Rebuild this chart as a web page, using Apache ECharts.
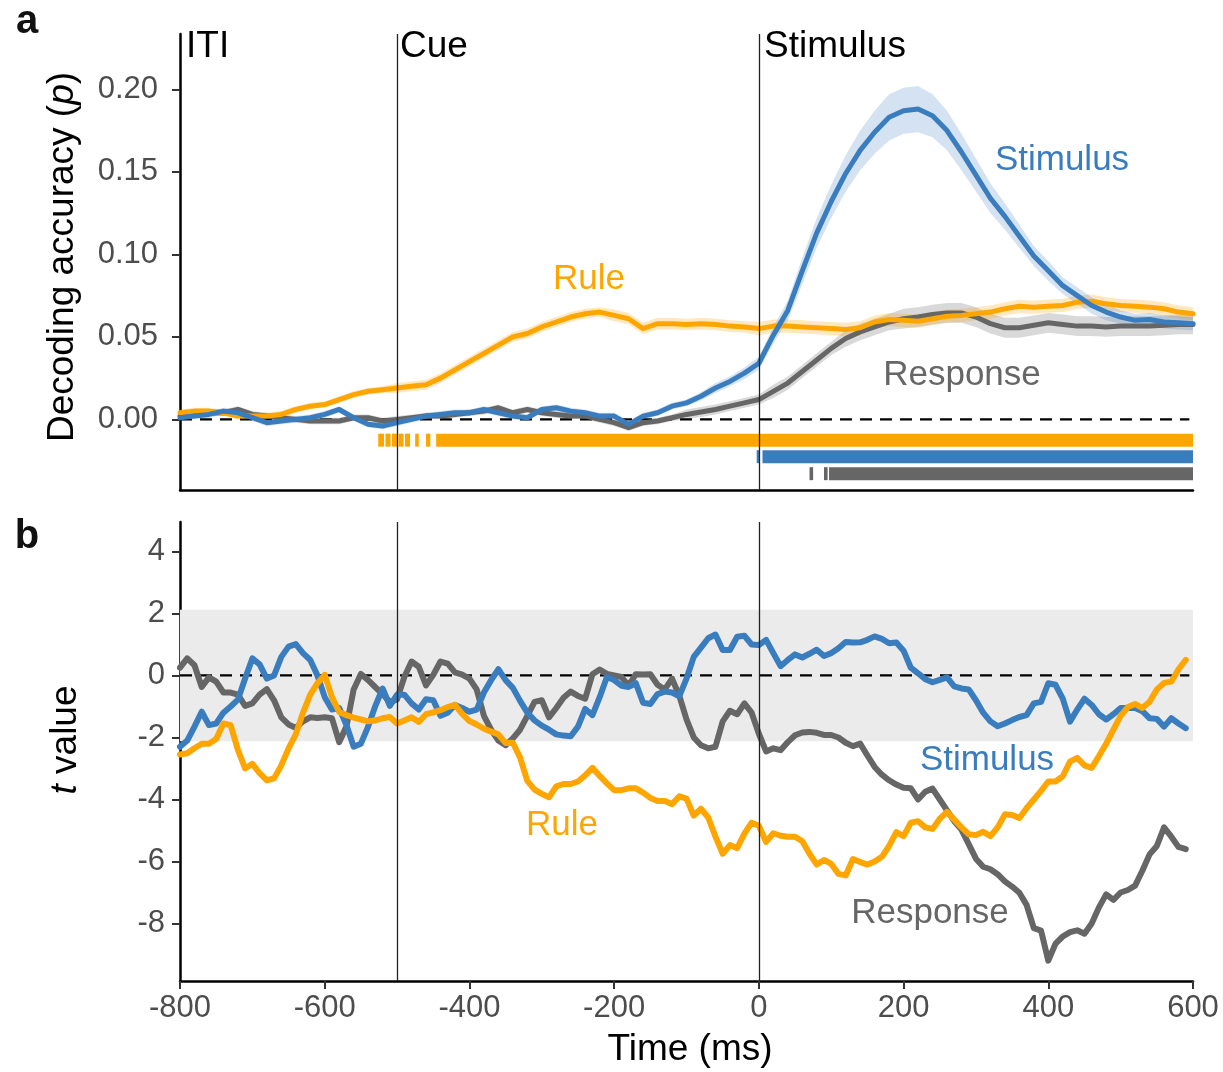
<!DOCTYPE html>
<html>
<head>
<meta charset="utf-8">
<title>Decoding accuracy / t value</title>
<script src="https://cdn.jsdelivr.net/npm/echarts@6/dist/echarts.min.js"></script>
<style>
  html, body { margin: 0; padding: 0; background: #fff; }
  #chart { width: 1223px; height: 1072px; }
</style>
</head>
<body>
<div id="chart"></div>
<script>
// ---- panel a: decoding accuracy, one value every 20 ms ----
const accTime = [-800,-780,-760,-740,-720,-700,-680,-660,-640,-620,
  -600,-580,-560,-540,-520,-500,-480,-460,-440,-420,
  -400,-380,-360,-340,-320,-300,-280,-260,-240,-220,
  -200,-180,-160,-140,-120,-100,-80,-60,-40,-20,
  0,20,40,60,80,100,120,140,160,180,
  200,220,240,260,280,300,320,340,360,380,
  400,420,440,460,480,500,520,540,560,580,600];

const ruleAcc = [0.004,0.005,0.005,0.004,0.002,0.002,0.002,0.003,0.006,0.008,
  0.009,0.012,0.015,0.017,0.018,0.019,0.020,0.021,0.025,0.030,
  0.035,0.040,0.045,0.050,0.052,0.056,0.059,0.062,0.064,0.065,
  0.063,0.061,0.055,0.058,0.058,0.0575,0.058,0.0575,0.0565,0.056,
  0.055,0.0565,0.0565,0.056,0.0555,0.055,0.0545,0.0555,0.059,0.0605,
  0.060,0.0595,0.061,0.0625,0.063,0.064,0.065,0.067,0.0685,0.068,
  0.0686,0.069,0.071,0.0716,0.070,0.069,0.0686,0.068,0.067,0.065,0.064];

const stimAcc = [0.001,0.002,0.003,0.005,0.004,0.001,-0.002,-0.001,0.0,0.001,
  0.003,0.006,0.001,-0.003,-0.004,-0.002,0.0,0.002,0.003,0.004,
  0.004,0.006,0.004,0.002,0.001,0.006,0.007,0.005,0.004,0.002,
  0.002,-0.003,0.002,0.004,0.008,0.010,0.014,0.019,0.023,0.028,
  0.034,0.051,0.066,0.090,0.113,0.132,0.149,0.163,0.174,0.183,
  0.187,0.188,0.184,0.175,0.162,0.148,0.134,0.123,0.111,0.099,
  0.090,0.081,0.075,0.069,0.065,0.062,0.060,0.0605,0.059,0.0585,0.058];

const respAcc = [0.002,0.003,0.004,0.004,0.006,0.003,0.002,0.001,0.0,-0.001,
  -0.001,-0.001,0.001,0.001,-0.001,0.0,0.001,0.002,0.002,0.003,
  0.004,0.005,0.007,0.004,0.006,0.004,0.003,0.002,0.002,0.0,
  -0.002,-0.005,-0.002,-0.001,0.001,0.003,0.0045,0.006,0.008,0.010,
  0.012,0.017,0.022,0.029,0.036,0.043,0.049,0.053,0.056,0.059,
  0.061,0.062,0.0635,0.0645,0.0645,0.062,0.058,0.0555,0.0555,0.057,
  0.0585,0.0575,0.0565,0.0565,0.056,0.0565,0.0565,0.0565,0.057,0.0575,0.0575];

// standard error half widths for the shaded ribbons
const ruleSem = [0.002,0.002,0.002,0.002,0.002,0.002,0.002,0.002,0.002,0.002,
  0.002,0.002,0.002,0.002,0.002,0.003,0.003,0.003,0.003,0.003,
  0.003,0.003,0.003,0.003,0.003,0.003,0.003,0.003,0.003,0.003,
  0.0035,0.0035,0.0035,0.0035,0.0035,0.0035,0.0035,0.0035,0.0035,0.0035,
  0.004,0.004,0.004,0.004,0.004,0.004,0.004,0.004,0.004,0.004,
  0.004,0.004,0.004,0.004,0.004,0.004,0.004,0.004,0.004,0.004,
  0.004,0.004,0.004,0.004,0.004,0.004,0.004,0.004,0.004,0.004,0.004];

const stimSem = [0.002,0.002,0.002,0.002,0.002,0.002,0.002,0.002,0.002,0.002,
  0.002,0.002,0.002,0.002,0.002,0.002,0.002,0.002,0.002,0.002,
  0.002,0.002,0.002,0.002,0.002,0.002,0.002,0.002,0.002,0.002,
  0.002,0.002,0.002,0.002,0.002,0.002,0.0025,0.003,0.003,0.0035,
  0.004,0.005,0.006,0.008,0.009,0.010,0.011,0.012,0.013,0.014,
  0.014,0.014,0.013,0.012,0.011,0.010,0.009,0.008,0.007,0.006,
  0.006,0.005,0.005,0.005,0.005,0.004,0.004,0.004,0.004,0.004,0.004];

const respSem = [0.002,0.002,0.002,0.002,0.002,0.002,0.002,0.002,0.002,0.002,
  0.002,0.002,0.002,0.002,0.002,0.002,0.002,0.002,0.002,0.002,
  0.002,0.002,0.002,0.002,0.002,0.002,0.002,0.002,0.002,0.002,
  0.002,0.002,0.002,0.002,0.002,0.003,0.003,0.003,0.003,0.003,
  0.003,0.004,0.004,0.004,0.004,0.004,0.005,0.005,0.005,0.005,
  0.006,0.006,0.006,0.006,0.006,0.006,0.006,0.006,0.006,0.006,
  0.006,0.006,0.006,0.006,0.006,0.006,0.006,0.006,0.006,0.006,0.006];

// significant time windows (ms), [start, end]
const ruleSig = [[-526,-518],[-516,-509],[-507,-500],[-498,-491],[-489,-482],[-475,-470],[-460,-454],[-446,600]];
const stimSig = [[-3,1],[5,600]];
const respSig = [[70,75],[90,95],[97,600]];

// ---- panel b: t values, one value every 10 ms ----
const tTime = [-800,-790,-780,-770,-760,-750,-740,-730,-720,-710,
  -700,-690,-680,-670,-660,-650,-640,-630,-620,-610,
  -600,-590,-580,-570,-560,-550,-540,-530,-520,-510,
  -500,-490,-480,-470,-460,-450,-440,-430,-420,-410,
  -400,-390,-380,-370,-360,-350,-340,-330,-320,-310,
  -300,-290,-280,-270,-260,-250,-240,-230,-220,-210,
  -200,-190,-180,-170,-160,-150,-140,-130,-120,-110,
  -100,-90,-80,-70,-60,-50,-40,-30,-20,-10,
  0,10,20,30,40,50,60,70,80,90,
  100,110,120,130,140,150,160,170,180,190,
  200,210,220,230,240,250,260,270,280,290,
  300,310,320,330,340,350,360,370,380,390,
  400,410,420,430,440,450,460,470,480,490,
  500,510,520,530,540,550,560,570,580,590];

const respT = [0.25,0.55,0.33,-0.37,-0.06,-0.2,-0.55,-0.55,-0.62,-0.98,
  -0.9,-0.62,-0.44,-0.8,-1.35,-1.58,-1.69,-1.48,-1.35,-1.37,
  -1.35,-1.38,-2.15,-1.65,-0.45,0.05,-0.15,-0.38,-0.6,-0.86,
  -0.77,-0.05,0.45,0.28,-0.32,0.02,0.45,0.38,0.1,0.03,
  -0.1,-0.45,-1.3,-1.75,-2.1,-2.25,-2.03,-1.75,-1.3,-0.85,
  -0.8,-1.35,-1.05,-0.72,-0.52,-0.66,-0.75,0.04,0.19,0.05,
  0.0,-0.05,-0.33,0.04,0.03,0.04,-0.3,-0.45,-0.1,-0.65,
  -1.42,-2.0,-2.25,-2.35,-2.3,-1.48,-1.14,-1.25,-0.9,-1.2,
  -1.88,-2.45,-2.35,-2.41,-2.15,-1.93,-1.84,-1.82,-1.85,-1.92,
  -1.92,-2.0,-2.17,-2.28,-2.2,-2.58,-2.95,-3.2,-3.38,-3.52,
  -3.62,-3.64,-4.0,-3.75,-3.65,-4.0,-4.35,-4.7,-4.97,-5.44,
  -5.91,-6.17,-6.25,-6.41,-6.64,-6.81,-7.01,-7.4,-8.15,-8.23,
  -9.2,-8.65,-8.42,-8.28,-8.22,-8.33,-8.0,-7.48,-7.06,-7.24,
  -7.0,-6.92,-6.78,-6.3,-5.77,-5.5,-4.9,-5.2,-5.53,-5.6];

const stimT = [-2.3,-2.1,-1.65,-1.17,-1.6,-1.55,-1.2,-1.0,-0.78,-0.1,
  0.55,0.36,-0.1,0.0,0.6,0.93,1.01,0.72,0.5,0.0,
  -0.7,-1.1,-1.05,-1.6,-2.3,-2.2,-1.65,-0.98,-0.42,-0.98,
  -0.62,-0.62,-0.9,-1.1,-0.77,-0.8,-1.3,-1.2,-0.95,-1.05,
  -1.17,-1.1,-0.55,-0.15,0.2,-0.15,-0.4,-0.82,-1.2,-1.45,
  -1.62,-1.75,-1.9,-1.94,-1.96,-1.65,-1.08,-1.28,-0.7,-0.05,
  -0.15,-0.33,-0.37,-0.25,-0.88,-0.92,-0.6,-0.52,-0.55,-0.67,
  -0.1,0.6,0.9,1.2,1.32,0.82,0.82,1.25,1.28,1.0,
  0.98,1.15,0.72,0.3,0.5,0.68,0.58,0.7,0.83,0.63,
  0.72,0.88,1.08,1.06,1.07,1.15,1.26,1.18,1.04,1.06,
  0.8,0.25,0.07,-0.12,-0.22,-0.14,-0.06,-0.35,-0.42,-0.45,
  -0.8,-1.2,-1.48,-1.64,-1.55,-1.44,-1.34,-1.28,-0.9,-0.85,
  -0.25,-0.3,-0.75,-1.49,-1.1,-0.75,-0.95,-1.25,-1.42,-1.25,
  -1.05,-1.05,-1.05,-1.15,-1.38,-1.4,-1.65,-1.38,-1.55,-1.7];

const ruleT = [-2.55,-2.51,-2.35,-2.2,-2.2,-2.05,-1.55,-1.6,-2.4,-3.0,
  -2.85,-3.15,-3.38,-3.32,-2.9,-2.35,-1.9,-1.2,-0.62,-0.25,
  0.02,-0.7,-1.18,-1.28,-1.36,-1.42,-1.48,-1.45,-1.38,-1.34,
  -1.55,-1.45,-1.35,-1.5,-1.25,-1.19,-1.12,-1.02,-0.95,-1.24,
  -1.47,-1.58,-1.72,-1.81,-1.9,-2.18,-2.17,-2.65,-3.4,-3.68,
  -3.82,-3.93,-3.58,-3.5,-3.5,-3.42,-3.22,-2.98,-3.24,-3.48,
  -3.7,-3.7,-3.64,-3.64,-3.78,-3.95,-4.05,-4.05,-4.15,-3.9,
  -3.97,-4.52,-4.3,-4.58,-5.2,-5.75,-5.47,-5.57,-5.1,-4.75,
  -4.85,-5.37,-5.09,-5.17,-5.2,-5.2,-5.35,-5.75,-6.1,-5.95,
  -6.08,-6.4,-6.45,-5.92,-6.02,-6.1,-6.0,-5.85,-5.5,-5.05,
  -5.18,-4.75,-4.7,-4.9,-4.95,-4.62,-4.4,-4.65,-4.9,-5.12,
  -5.15,-5.04,-5.18,-4.9,-4.48,-4.5,-4.6,-4.28,-4.0,-3.72,
  -3.42,-3.42,-3.25,-2.78,-2.66,-2.9,-2.98,-2.6,-2.2,-1.75,
  -1.3,-1.02,-0.92,-1.05,-0.85,-0.45,-0.24,-0.2,0.2,0.5];

const critT = 2.12;          // grey band, +/- critical t
const phaseOnsets = [-500, 0];
const zeroLine = [[-800, 0], [595, 0]];
const accTicks = [0, 0.05, 0.10, 0.15, 0.20];
const tTicks = [-8, -6, -4, -2, 0, 2, 4];

const FONT = "'Liberation Sans', Arial, Helvetica, sans-serif";
const ORANGE = '#FFA500';
const BLUE = '#3A7DBF';
const GREY = '#666666';
const TICK_TXT = '#4D4D4D';

function pairs(x, y) {
  return x.map((t, i) => [t, y[i]]);
}

function ribbon(mean, sem, fill) {
  return {
    type: 'custom', xAxisIndex: 0, yAxisIndex: 0, z: 2, silent: true,
    data: pairs(accTime, mean),
    renderItem: function (params, api) {
      if (params.dataIndex !== 0) return null;
      const up = accTime.map((t, i) => api.coord([t, mean[i] + sem[i]]));
      const lo = accTime.map((t, i) => api.coord([t, mean[i] - sem[i]])).reverse();
      return { type: 'polygon', shape: { points: up.concat(lo) }, style: { fill: fill } };
    }
  };
}

function sigBar(segs, level, color) {
  return {
    type: 'custom', xAxisIndex: 0, yAxisIndex: 0, z: 3, silent: true,
    data: segs,
    encode: { x: [0, 1] },
    renderItem: function (params, api) {
      const a = api.coord([api.value(0), level]);
      const b = api.coord([api.value(1), level]);
      return {
        type: 'rect',
        shape: { x: a[0], y: a[1] - 6.5, width: Math.max(b[0] - a[0], 2.5), height: 13 },
        style: { fill: color }
      };
    }
  };
}

function line(x, y, color, width, gi) {
  return {
    type: 'line', xAxisIndex: gi, yAxisIndex: gi, z: 4, silent: true,
    data: pairs(x, y), showSymbol: false, symbol: 'none',
    lineStyle: { color: color, width: width, join: 'round', cap: 'round' },
    itemStyle: { color: color }
  };
}

function dashedZero(gi) {
  return {
    type: 'line', xAxisIndex: gi, yAxisIndex: gi, z: 3, silent: true,
    data: zeroLine, symbol: 'none',
    lineStyle: { color: '#000', width: 2.2, type: [12, 8] },
    markLine: {
      silent: true, symbol: 'none', label: { show: false },
      lineStyle: { color: '#222', width: 1.3, type: 'solid' },
      data: phaseOnsets.map(v => ({ xAxis: v }))
    }
  };
}

const axisLine = { show: true, onZero: false, lineStyle: { color: '#000', width: 2.5 } };
const axisTick = { show: true, length: 8, lineStyle: { color: '#333', width: 2 } };

function txt(x, y, text, size, color, extra) {
  return Object.assign({
    type: 'text', x: x, y: y, silent: true,
    style: { text: text, font: size + 'px ' + FONT, fill: color, align: 'center', verticalAlign: 'middle' }
  }, extra || {});
}

const chart = echarts.init(document.getElementById('chart'), null, { renderer: 'canvas' });

const option = {
  animation: false,
  backgroundColor: '#fff',
  grid: [
    { left: 180, right: 30, top: 34, height: 456, outerBoundsMode: 'none' },
    { left: 180, right: 30, top: 522, height: 459, outerBoundsMode: 'none' }
  ],
  xAxis: [
    {
      type: 'value', gridIndex: 0, min: -800, max: 600, interval: 200,
      axisLine: axisLine, axisTick: { show: false }, axisLabel: { show: false },
      splitLine: { show: false }
    },
    {
      type: 'value', gridIndex: 1, min: -800, max: 600, interval: 200,
      axisLine: axisLine, axisTick: axisTick,
      axisLabel: { fontSize: 31, fontFamily: FONT, color: TICK_TXT, margin: 12 },
      splitLine: { show: false }
    }
  ],
  yAxis: [
    {
      type: 'value', gridIndex: 0, min: -0.0428, max: 0.2335,
      axisLine: axisLine,
      axisTick: Object.assign({ customValues: accTicks }, axisTick),
      axisLabel: {
        customValues: accTicks, fontSize: 31, fontFamily: FONT, color: TICK_TXT, margin: 22,
        formatter: v => Number(v).toFixed(2)
      },
      splitLine: { show: false }
    },
    {
      type: 'value', gridIndex: 1, min: -9.855, max: 4.95,
      axisLine: axisLine,
      axisTick: Object.assign({ customValues: tTicks }, axisTick),
      axisLabel: { customValues: tTicks, fontSize: 31, fontFamily: FONT, color: TICK_TXT, margin: 15 },
      splitLine: { show: false }
    }
  ],
  series: [
    // panel a
    dashedZero(0),
    ribbon(respAcc, respSem, 'rgba(102,102,102,0.25)'),
    ribbon(ruleAcc, ruleSem, 'rgba(255,165,0,0.25)'),
    ribbon(stimAcc, stimSem, 'rgba(58,125,191,0.22)'),
    sigBar(ruleSig, -0.0126, ORANGE),
    sigBar(stimSig, -0.0226, BLUE),
    sigBar(respSig, -0.0329, GREY),
    line(accTime, respAcc, GREY, 5, 0),
    line(accTime, ruleAcc, ORANGE, 5, 0),
    line(accTime, stimAcc, BLUE, 5, 0),
    // panel b
    {
      type: 'line', xAxisIndex: 1, yAxisIndex: 1, z: 1, silent: true,
      data: zeroLine, symbol: 'none', lineStyle: { opacity: 0 },
      markArea: {
        silent: true, itemStyle: { color: '#EBEBEB' },
        data: [[{ yAxis: -critT }, { yAxis: critT }]]
      }
    },
    dashedZero(1),
    line(tTime, respT, GREY, 6, 1),
    line(tTime, stimT, BLUE, 6, 1),
    line(tTime, ruleT, ORANGE, 6, 1)
  ],
  graphic: [
    txt(27, 22, 'a', 40, '#111', { style: { text: 'a', font: 'bold 40px ' + FONT, fill: '#111', align: 'center', verticalAlign: 'middle' } }),
    txt(27, 537, 'b', 40, '#111', { style: { text: 'b', font: 'bold 40px ' + FONT, fill: '#111', align: 'center', verticalAlign: 'middle' } }),
    txt(186, 47, 'ITI', 37, '#000', { style: { text: 'ITI', font: '37px ' + FONT, fill: '#000', align: 'left', verticalAlign: 'middle' } }),
    txt(400, 47, 'Cue', 37, '#000', { style: { text: 'Cue', font: '37px ' + FONT, fill: '#000', align: 'left', verticalAlign: 'middle' } }),
    txt(764, 47, 'Stimulus', 37, '#000', { style: { text: 'Stimulus', font: '37px ' + FONT, fill: '#000', align: 'left', verticalAlign: 'middle' } }),
    txt(589, 279, 'Rule', 35, ORANGE),
    txt(1062, 160, 'Stimulus', 35, BLUE),
    txt(962, 375, 'Response', 35, GREY),
    txt(987, 760, 'Stimulus', 35, BLUE),
    txt(562, 825, 'Rule', 35, ORANGE),
    txt(930, 913, 'Response', 35, GREY),
    {
      type: 'text', x: 63, y: 257, rotation: Math.PI / 2, silent: true,
      style: {
        text: '{n|Decoding accuracy (}{i|p}{n|)}', align: 'center', verticalAlign: 'middle',
        rich: {
          n: { font: '37px ' + FONT, fill: '#000' },
          i: { font: 'italic 37px ' + FONT, fill: '#000' }
        }
      }
    },
    {
      type: 'text', x: 66, y: 740, rotation: Math.PI / 2, silent: true,
      style: {
        text: '{i|t}{n| value}', align: 'center', verticalAlign: 'middle',
        rich: {
          n: { font: '37px ' + FONT, fill: '#000' },
          i: { font: 'italic 37px ' + FONT, fill: '#000' }
        }
      }
    },
    txt(690, 1050, 'Time (ms)', 37, '#000')
  ]
};

chart.setOption(option);
</script>
</body>
</html>
